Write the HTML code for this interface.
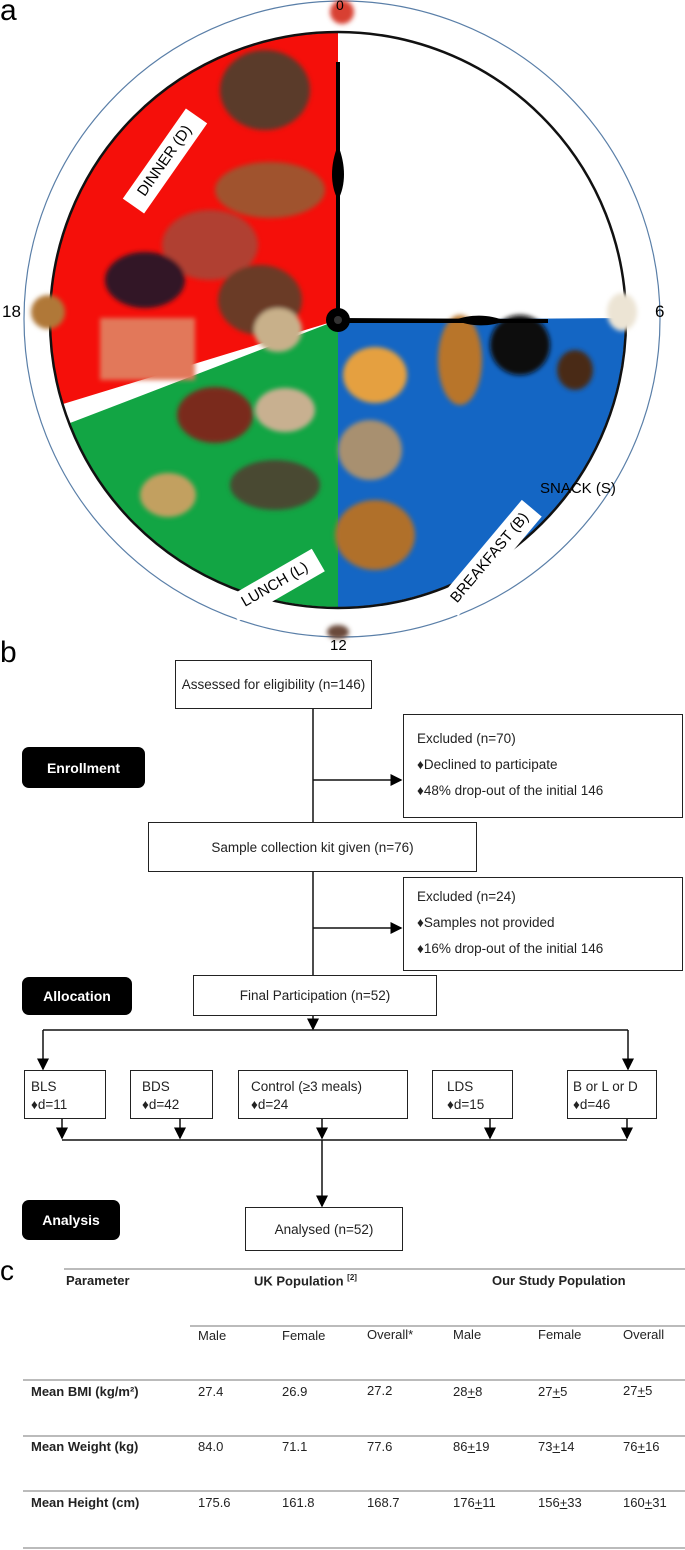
<!DOCTYPE html>
<html><head><meta charset="utf-8"><style>
body{margin:0;background:#fff;width:685px;height:1550px;overflow:hidden;position:relative;font-family:"Liberation Sans",sans-serif}
.a{position:absolute}
.box{position:absolute;border:1.5px solid #222;box-sizing:border-box;font-size:13.5px;color:#222;background:#fff}
.c{display:flex;align-items:center;justify-content:center}
.pill{position:absolute;background:#000;color:#fff;border-radius:7px;font-weight:bold;font-size:14px;display:flex;align-items:center;justify-content:center}
.t{position:absolute;font-size:13px;color:#222}
.b{font-weight:bold}
.hl{position:absolute;height:2px;background:#bbb}
</style></head><body>
<svg class="a" style="left:0;top:0" width="685" height="1550">
<defs><filter id="bl"><feGaussianBlur stdDeviation="2.5"/></filter>
<marker id="ar" markerWidth="8" markerHeight="8" refX="7" refY="4" orient="auto"><path d="M0,0 L8,4 L0,8z" fill="#000"/></marker></defs>
<circle cx="342" cy="319" r="318" fill="none" stroke="#5a7fa8" stroke-width="1.2"/>
<path d="M338,320 L338,33 A287,287 0 0,0 63,404 Z" fill="#f50f0a"/>
<path d="M338,320 L70,423 A287,287 0 0,0 338,607 Z" fill="#12a544"/>
<path d="M338,320 L338,607 A287,287 0 0,0 625,318 Z" fill="#1466c4"/>
<circle cx="338" cy="320" r="288" fill="none" stroke="#111" stroke-width="2.5"/>
<g filter="url(#bl)">
<ellipse cx="265" cy="90" rx="45" ry="40" fill="#5a3a2a"/>
<ellipse cx="270" cy="190" rx="55" ry="28" fill="#a0522d"/>
<ellipse cx="210" cy="245" rx="48" ry="35" fill="#b04030"/>
<ellipse cx="145" cy="280" rx="40" ry="28" fill="#301525"/>
<rect x="100" y="318" width="95" height="62" fill="#e2785a"/>
<ellipse cx="260" cy="300" rx="42" ry="35" fill="#6b3a25"/>
<ellipse cx="278" cy="330" rx="24" ry="22" fill="#c8b08a"/>
<ellipse cx="215" cy="415" rx="38" ry="28" fill="#7a2a1a"/>
<ellipse cx="285" cy="410" rx="30" ry="22" fill="#c8b090"/>
<ellipse cx="168" cy="495" rx="28" ry="22" fill="#c2a060"/>
<ellipse cx="275" cy="485" rx="45" ry="25" fill="#4a4a30"/>
<ellipse cx="375" cy="375" rx="32" ry="28" fill="#e5a040"/>
<ellipse cx="460" cy="360" rx="22" ry="45" fill="#b8752a"/>
<circle cx="520" cy="345" r="30" fill="#111"/>
<ellipse cx="575" cy="370" rx="18" ry="20" fill="#4a2a15"/>
<ellipse cx="370" cy="450" rx="32" ry="30" fill="#a89070"/>
<ellipse cx="375" cy="535" rx="40" ry="35" fill="#b0702a"/>
<circle cx="342" cy="12" r="12" fill="#d84030"/>
<circle cx="48" cy="312" r="17" fill="#b07838"/>
<ellipse cx="622" cy="312" rx="15" ry="19" fill="#ece4d4"/>
<ellipse cx="338" cy="632" rx="11" ry="7" fill="#6a4a3a"/>
</g>
<path d="M336,320 L336,62 L340,62 L340,320Z" fill="#000"/>
<path d="M338,145 C346,165 346,185 338,200 C330,185 330,165 338,145Z" fill="#000"/>
<path d="M338,318 L548,319 L548,323 L338,323Z" fill="#000"/>
<path d="M455,320 C470,314 490,314 505,321 C490,327 470,327 455,320Z" fill="#000"/>
<circle cx="338" cy="320" r="12" fill="#000"/>
<circle cx="338" cy="320" r="4" fill="#333"/>
<g stroke="#111" stroke-width="1.5" fill="none">
<line x1="313" y1="708" x2="313" y2="822"/>
<line x1="313" y1="780" x2="401" y2="780" marker-end="url(#ar)"/>
<line x1="313" y1="872" x2="313" y2="975"/>
<line x1="313" y1="928" x2="401" y2="928" marker-end="url(#ar)"/>
<line x1="313" y1="1015" x2="313" y2="1029" marker-end="url(#ar)"/>
<line x1="43" y1="1030" x2="628" y2="1030"/>
<line x1="43" y1="1030" x2="43" y2="1069" marker-end="url(#ar)"/>
<line x1="628" y1="1030" x2="628" y2="1069" marker-end="url(#ar)"/>
<line x1="62" y1="1118" x2="62" y2="1138" marker-end="url(#ar)"/>
<line x1="180" y1="1118" x2="180" y2="1138" marker-end="url(#ar)"/>
<line x1="322" y1="1118" x2="322" y2="1138" marker-end="url(#ar)"/>
<line x1="490" y1="1118" x2="490" y2="1138" marker-end="url(#ar)"/>
<line x1="627" y1="1118" x2="627" y2="1138" marker-end="url(#ar)"/>
<line x1="62" y1="1140" x2="627" y2="1140"/>
<line x1="322" y1="1140" x2="322" y2="1206" marker-end="url(#ar)"/>
</g>
</svg>
<div class="a" style="left:0;top:-6px;font-size:30px">a</div>
<div class="a" style="left:336px;top:-3px;font-size:14px">0</div>
<div class="a" style="left:2px;top:302px;font-size:17px">18</div>
<div class="a" style="left:655px;top:302px;font-size:17px">6</div>
<div class="a" style="left:110px;top:148px;width:110px;height:26px;background:#fff;transform:rotate(-55deg);font-size:15px;text-align:center;line-height:26px">DINNER (D)</div>
<div class="a" style="left:225px;top:572px;width:100px;height:26px;background:#fff;transform:rotate(-30deg);font-size:15px;text-align:center;line-height:26px">LUNCH (L)</div>
<div class="a" style="left:425px;top:545px;width:130px;height:26px;background:#fff;transform:rotate(-50deg);font-size:15px;text-align:center;line-height:26px">BREAKFAST (B)</div>
<div class="a" style="left:540px;top:480px;font-size:15px">SNACK (S)</div>

<div class="a" style="left:0;top:636px;font-size:30px">b</div>
<div class="a" style="left:330px;top:637px;font-size:15px">12</div>
<div class="box c" style="left:175px;top:660px;width:197px;height:49px">Assessed for eligibility (n=146)</div>
<div class="box" style="left:403px;top:714px;width:280px;height:104px;padding:11px 0 0 13px;line-height:26px">Excluded (n=70)<br>♦Declined to participate<br>♦48% drop-out of the initial 146</div>
<div class="pill" style="left:22px;top:747px;width:123px;height:41px">Enrollment</div>
<div class="box c" style="left:148px;top:822px;width:329px;height:50px">Sample collection kit given (n=76)</div>
<div class="box" style="left:403px;top:877px;width:280px;height:94px;padding:6px 0 0 13px;line-height:26px">Excluded (n=24)<br>♦Samples not provided<br>♦16% drop-out of the initial 146</div>
<div class="pill" style="left:22px;top:977px;width:110px;height:38px">Allocation</div>
<div class="box c" style="left:193px;top:975px;width:244px;height:41px">Final Participation (n=52)</div>
<div class="box" style="left:24px;top:1070px;width:82px;height:49px;padding:7px 0 0 6px;line-height:18px">BLS<br>♦d=11</div>
<div class="box" style="left:130px;top:1070px;width:83px;height:49px;padding:7px 0 0 11px;line-height:18px">BDS<br>♦d=42</div>
<div class="box" style="left:238px;top:1070px;width:170px;height:49px;padding:7px 0 0 12px;line-height:18px">Control (≥3 meals)<br>♦d=24</div>
<div class="box" style="left:432px;top:1070px;width:81px;height:49px;padding:7px 0 0 14px;line-height:18px">LDS<br>♦d=15</div>
<div class="box" style="left:567px;top:1070px;width:90px;height:49px;padding:7px 0 0 5px;line-height:18px">B or L or D<br>♦d=46</div>
<div class="pill" style="left:22px;top:1200px;width:98px;height:40px">Analysis</div>
<div class="box c" style="left:245px;top:1207px;width:158px;height:44px">Analysed (n=52)</div>

<div class="a" style="left:0;top:1255px;font-size:28px">c</div>
<div class="hl" style="left:64px;top:1268px;width:621px"></div>
<div class="t b" style="left:66px;top:1273px">Parameter</div>
<div class="t b" style="left:254px;top:1273px">UK Population <sup style="font-size:8px">[2]</sup></div>
<div class="t b" style="left:492px;top:1273px">Our Study Population</div>
<div class="hl" style="left:190px;top:1325px;width:495px"></div>
<div class="t" style="left:198px;top:1328px">Male</div><div class="t" style="left:282px;top:1328px">Female</div><div class="t" style="left:367px;top:1327px">Overall*</div><div class="t" style="left:453px;top:1327px">Male</div><div class="t" style="left:538px;top:1327px">Female</div><div class="t" style="left:623px;top:1327px">Overall</div>
<div class="hl" style="left:23px;top:1379px;width:662px"></div>
<div class="t b" style="left:31px;top:1384px">Mean BMI (kg/m²)</div><div class="t" style="left:198px;top:1384px">27.4</div><div class="t" style="left:282px;top:1384px">26.9</div><div class="t" style="left:367px;top:1383px">27.2</div><div class="t" style="left:453px;top:1384px">28<u>+</u>8</div><div class="t" style="left:538px;top:1384px">27<u>+</u>5</div><div class="t" style="left:623px;top:1383px">27<u>+</u>5</div>
<div class="hl" style="left:23px;top:1435px;width:662px"></div>
<div class="t b" style="left:31px;top:1439px">Mean Weight (kg)</div><div class="t" style="left:198px;top:1439px">84.0</div><div class="t" style="left:282px;top:1439px">71.1</div><div class="t" style="left:367px;top:1439px">77.6</div><div class="t" style="left:453px;top:1439px">86<u>+</u>19</div><div class="t" style="left:538px;top:1439px">73<u>+</u>14</div><div class="t" style="left:623px;top:1439px">76<u>+</u>16</div>
<div class="hl" style="left:23px;top:1490px;width:662px"></div>
<div class="t b" style="left:31px;top:1495px">Mean Height (cm)</div><div class="t" style="left:198px;top:1495px">175.6</div><div class="t" style="left:282px;top:1495px">161.8</div><div class="t" style="left:367px;top:1495px">168.7</div><div class="t" style="left:453px;top:1495px">176<u>+</u>11</div><div class="t" style="left:538px;top:1495px">156<u>+</u>33</div><div class="t" style="left:623px;top:1495px">160<u>+</u>31</div>
<div class="hl" style="left:23px;top:1547px;width:662px"></div>
</body></html>
